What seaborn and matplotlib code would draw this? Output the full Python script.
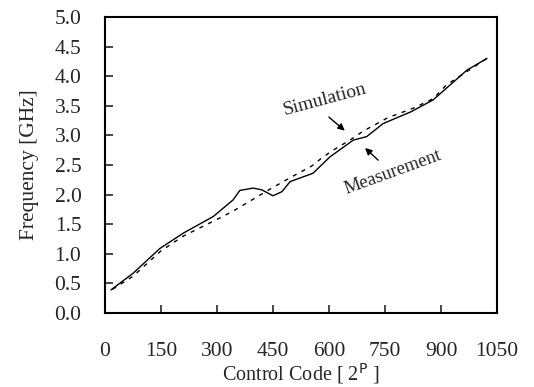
import matplotlib
matplotlib.use("Agg")
import matplotlib.pyplot as plt
import seaborn as sns
import pandas as pd

meas_x = [16, 75, 147, 210, 290, 343, 361, 397, 420, 450, 474, 496, 557, 603, 665, 701, 745, 820, 879, 951, 969, 1023]
meas_y = [0.39, 0.67, 1.09, 1.35, 1.63, 1.91, 2.07, 2.11, 2.08, 1.98, 2.05, 2.22, 2.36, 2.64, 2.92, 2.98, 3.20, 3.40, 3.60, 4.00, 4.10, 4.30]
sim_x = [20, 75, 150, 210, 290, 343, 407, 447, 500, 553, 581, 611, 661, 691, 758, 826, 879, 914, 1023]
sim_y = [0.40, 0.62, 1.05, 1.30, 1.55, 1.72, 1.96, 2.11, 2.30, 2.48, 2.62, 2.75, 2.94, 3.07, 3.30, 3.46, 3.62, 3.85, 4.30]
x_ticks = [0, 150, 300, 450, 600, 750, 900, 1050]
y_ticks = [0.0, 0.5, 1.0, 1.5, 2.0, 2.5, 3.0, 3.5, 4.0, 4.5, 5.0]

sns.set_style("white")
plt.rcParams['font.family'] = ['Liberation Serif', 'DejaVu Serif']

fig = plt.figure(figsize=(5.34, 3.87), dpi=100)
ax = fig.add_axes([105/534, 1 - 313/387, 392/534, 296/387])

dm = pd.DataFrame({"x": meas_x, "y": meas_y})
ds = pd.DataFrame({"x": sim_x, "y": sim_y})
sns.lineplot(data=ds, x="x", y="y", ax=ax, color="black", lw=1.0, linestyle=(0, (3, 4)))
sns.lineplot(data=dm, x="x", y="y", ax=ax, color="black", lw=1.0)

ax.set_xlim(0, 1050)
ax.set_ylim(0, 5.0)
ax.set_xticks(x_ticks)
ax.set_yticks(y_ticks)
ax.set_xticklabels([str(v) for v in x_ticks], fontsize=15.5)
ax.set_yticklabels([f"{v:.1f}" for v in y_ticks], fontsize=15.5)
ax.tick_params(axis='x', direction='in', length=6, width=1.2, pad=21, bottom=True)
ax.tick_params(axis='y', direction='in', length=6, width=1.2, pad=17, left=True)
for s in ax.spines.values():
    s.set_color("black")
    s.set_linewidth(1.5)

ax.set_xlabel("Control Code [ 2$^{\\rm P}$ ]", fontsize=14.5, labelpad=0)
ax.set_ylabel("Frequency [GHz]", fontsize=15.5, labelpad=11)

ax.text(589, 3.6, "Simulation", rotation=15, fontsize=14, ha="center", va="center")
ax.annotate("", xy=(648, 3.05), xytext=(594, 3.34),
            arrowprops=dict(arrowstyle="-|>", color="black", lw=1, mutation_scale=10))
ax.text(771, 2.38, "Measurement", rotation=20, fontsize=13.5, ha="center", va="center")
ax.annotate("", xy=(691, 2.82), xytext=(737, 2.55),
            arrowprops=dict(arrowstyle="-|>", color="black", lw=1, mutation_scale=10))

fig.savefig("out.png", dpi=100)
